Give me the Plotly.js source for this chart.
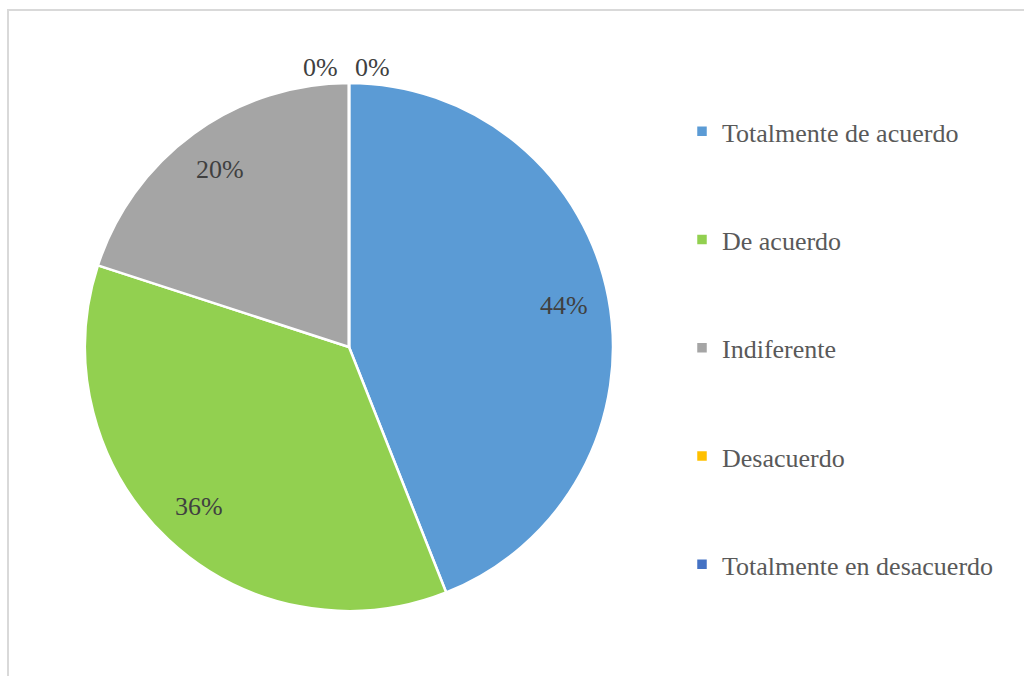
<!DOCTYPE html>
<html>
<head>
<meta charset="utf-8">
<script src="https://cdn.plot.ly/plotly-3.0.1.min.js"></script>
<style>
  html, body { margin: 0; padding: 0; background: #ffffff; }
  #wrap { position: relative; width: 1024px; height: 676px; overflow: hidden; }
  #chart { position: absolute; left: 0; top: 0; width: 1024px; height: 676px; }
  #frame { position: absolute; left: 7px; top: 9px; width: 1100px; height: 800px;
           border-left: 2px solid #d9d9d9; border-top: 2px solid #d9d9d9; pointer-events: none; }
</style>
</head>
<body>
<div id="wrap">
  <div id="chart"></div>
  <div id="frame"></div>
</div>
<script>
const categories = ["Totalmente de acuerdo", "De acuerdo", "Indiferente", "Desacuerdo", "Totalmente en desacuerdo"];
const values = [44, 36, 20, 0, 0];
const colors = ["#5B9BD5", "#92D050", "#A5A5A5", "#FFC000", "#4472C4"];

const W = 1024, H = 676;
const cx = 349, cy = 347, r = 264;
const FONT = 'Liberation Serif';

const legendLabels = categories.map(c => ' <br><span style="font-size:26px">' + c + '</span><br> ');

const trace = {
  type: 'pie',
  labels: legendLabels,
  values: values,
  sort: false,
  direction: 'clockwise',
  rotation: 0,
  marker: { colors: colors, line: { color: '#ffffff', width: 2.5 } },
  textinfo: 'none',
  showlegend: true,
  hoverinfo: 'percent',
  domain: { x: [(cx - r) / W, (cx + r) / W], y: [1 - (cy + r) / H, 1 - (cy - r) / H] }
};

// data labels placed from the slice angles (Excel "best fit" style)
const total = values.reduce((a, b) => a + b, 0);
const annotations = [];
let cum = 0;
const zeroOffsets = [-28, 24];
let zi = 0;
values.forEach((v, i) => {
  const mid = (cum + v / 2) / total * 2 * Math.PI;
  cum += v;
  const pct = Math.round(v / total * 100) + '%';
  let px, py;
  if (v > 0) {
    const d = r * 0.83;
    px = cx + d * Math.sin(mid);
    py = cy - d * Math.cos(mid);
  } else {
    const d = r + 15;
    px = cx + d * Math.sin(mid) + zeroOffsets[zi++ % 2];
    py = cy - d * Math.cos(mid);
  }
  annotations.push({
    x: px / W, y: 1 - py / H, xref: 'paper', yref: 'paper',
    text: pct, showarrow: false, xanchor: 'center', yanchor: 'middle',
    font: { family: FONT, size: 26, color: '#404040' }
  });
});

const layout = {
  width: W, height: H,
  margin: { l: 0, r: 0, t: 0, b: 0 },
  paper_bgcolor: '#ffffff',
  plot_bgcolor: '#ffffff',
  showlegend: true,
  annotations: annotations,
  legend: {
    x: 682 / W, y: 1 - 72 / H, xanchor: 'left', yanchor: 'top',
    font: { family: FONT, size: 27, color: '#595959' },
    valign: 'middle',
    traceorder: 'normal'
  }
};

Plotly.newPlot('chart', [trace], layout, { displayModeBar: false, staticPlot: true });
</script>
</body>
</html>
